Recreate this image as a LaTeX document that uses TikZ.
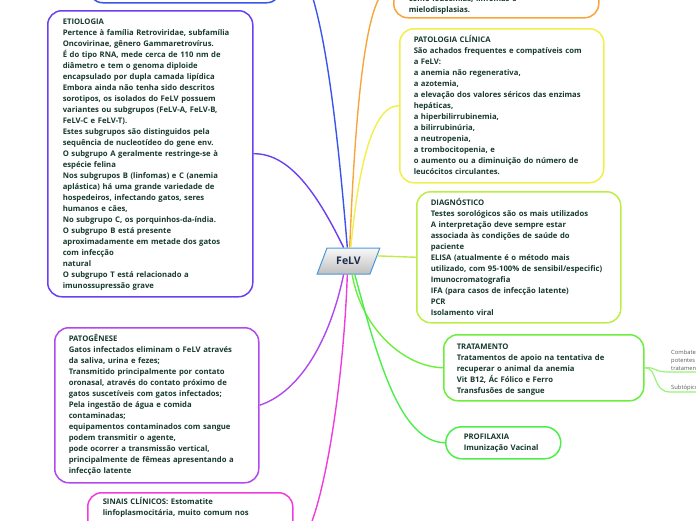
\documentclass[tikz,border=0pt]{standalone}
\usepackage{fontspec}
\setmainfont{Open Sans}
\usepackage{tikz}
\usetikzlibrary{calc, shapes.geometric}

\definecolor{txt}{HTML}{173A2F}
\definecolor{cblue}{HTML}{3A55EE}
\definecolor{cetio}{HTML}{6A40F0}
\definecolor{cpato}{HTML}{B048EE}
\definecolor{csin}{HTML}{F03CDC}
\definecolor{corange}{HTML}{F8A53C}
\definecolor{cyel}{HTML}{F2EE4A}
\definecolor{cdiag}{HTML}{BDEE48}
\definecolor{ctrat}{HTML}{6CEE3C}
\definecolor{cprof}{HTML}{4CEE4C}
\definecolor{cfelv}{HTML}{4A98D8}
\definecolor{cname}{HTML}{1F2D4D}

\begin{document}
\begin{tikzpicture}[x=1pt, y=-1pt,
      topic/.style={draw=#1, line width=1.5pt, rounded corners=14pt, fill=white, anchor=north west,
        align=left, inner ysep=0pt, text=txt, font=\fontsize{7.7}{11}\selectfont\bfseries},
      link/.style={draw=#1, line width=1.4pt},
      subtopic/.style={anchor=south west, inner sep=1pt, align=left, text=gray!70!black,
        font=\fontsize{5.8}{8}\selectfont}]
      \useasboundingbox (0,0) rectangle (696,520);
      \clip (0,0) rectangle (696,520);
      \node[topic=cblue, inner xsep=15pt, text width=162pt, text height=0pt, text depth=102pt] (tl) at (88,-100) {};
      \node[topic=cetio, inner xsep=15pt, text width=175pt, text height=13.4pt, text depth=272.6pt] (etio) at (47,10)
        {ETIOLOGIA\\
        Pertence à família Retroviridae, subfamília\\
        Oncovirinae, gênero Gammaretrovírus.\\
        É do tipo RNA, mede cerca de 110 nm de\\
        diâmetro e tem o genoma diploide\\
        encapsulado por dupla camada lipídica\\
        Embora ainda não tenha sido descritos\\
        sorotipos, os isolados do FeLV possuem\\
        variantes ou subgrupos (FeLV-A, FeLV-B,\\
        FeLV-C e FeLV-T).\\
        Estes subgrupos são distinguidos pela\\
        sequência de nucleotídeo do gene env.\\
        O subgrupo A geralmente restringe-se à\\
        espécie felina\\
        Nos subgrupos B (linfomas) e C (anemia\\
        aplástica) há uma grande variedade de\\
        hospedeiros, infectando gatos, seres\\
        humanos e cães,\\
        No subgrupo C, os porquinhos-da-índia.\\
        O subgrupo B está presente\\
        aproximadamente em metade dos gatos\\
        com infecção\\
        natural\\
        O subgrupo T está relacionado a\\
        imunossupressão grave};
      \node[topic=cpato, inner xsep=14pt, text width=176pt, text height=14pt, text depth=141pt] (pato) at (54,327)
        {PATOGÊNESE\\
        Gatos infectados eliminam o FeLV através\\
        da saliva, urina e fezes;\\
        Transmitido principalmente por contato\\
        oronasal, através do contato próximo de\\
        gatos suscetíveis com gatos infectados;\\
        Pela ingestão de água e comida\\
        contaminadas;\\
        equipamentos contaminados com sangue\\
        podem transmitir o agente,\\
        pode ocorrer a transmissão vertical,\\
        principalmente de fêmeas apresentando a\\
        infecção latente};
      \node[topic=csin, inner xsep=15pt, text width=175pt, text height=11.3pt, text depth=100pt] (sin) at (87,492)
        {SINAIS CLÍNICOS: Estomatite\\
        linfoplasmocitária, muito comum nos};
      \node[topic=corange, inner xsep=15pt, text width=175pt, text height=40.6pt, text depth=16.4pt] (tr) at (393,-40)
        {como leucemias, linfomas e\\
        mielodisplasias.};
      \node[topic=cyel, inner xsep=14pt, text width=176pt, text height=13.6pt, text depth=140.4pt] (patol) at (399,28)
        {PATOLOGIA CLÍNICA\\
        São achados frequentes e compatíveis com\\
        a FeLV:\\
        a anemia não regenerativa,\\
        a azotemia,\\
        a elevação dos valores séricos das enzimas\\
        hepáticas,\\
        a hiperbilirrubinemia,\\
        a bilirrubinúria,\\
        a neutropenia,\\
        a trombocitopenia, e\\
        o aumento ou a diminuição do número de\\
        leucócitos circulantes.};
      \node[topic=cdiag, inner xsep=14pt, text width=176pt, text height=13.6pt, text depth=117.4pt] (diag) at (416,191)
        {DIAGNÓSTICO\\
        Testes sorológicos são os mais utilizados\\
        A interpretação deve sempre estar\\
        associada às condições de saúde do\\
        paciente\\
        ELISA (atualmente é o método mais\\
        utilizado, com 95-100\% de sensibil/especific)\\
        Imunocromatografia\\
        IFA (para casos de infecção latente)\\
        PCR\\
        Isolamento viral};
      \node[topic=ctrat, inner xsep=13pt, text width=174pt, text height=14.6pt, text depth=51.4pt] (trat) at (443,334)
        {TRATAMENTO\\
        Tratamentos de apoio na tentativa de\\
        recuperar o animal da anemia\\
        Vit B12, Ác Fólico e Ferro\\
        Transfusões de sangue};
      \node[topic=cprof, rounded corners=16pt, inner xsep=18pt, text width=79pt, text height=12.6pt, text depth=19.4pt] (prof) at (445,426)
        {PROFILAXIA\\
        Imunização Vacinal};
      \node[subtopic] (sub1) at (670,372) {Combate a\\potentes\\tratamento};
      \node[subtopic] (sub2) at (670,392) {Subtópico};
      \node[trapezium, trapezium left angle=63.4, trapezium right angle=116.6, trapezium stretches=true,
        minimum width=63pt, minimum height=26pt, draw=cfelv, line width=1pt, top color=gray!5,
        bottom color=gray!50, text=cname, font=\fontsize{10.5}{11}\selectfont\bfseries] (felv) at (348.5,261) {FeLV};
      \draw[link=cblue] (felv.95) .. controls (335,100) and (318,-49) .. (tl.east);
      \draw[link=cetio] (felv.110) .. controls (318,195) and (290,153) .. (etio.east);
      \draw[link=corange] (felv.85) .. controls (355,120) and (365,-21.5) .. (tr.west);
      \draw[link=cyel] (felv.80) .. controls (357,180) and (370,105) .. (patol.west);
      \draw[link=cdiag] (felv.10) -- (diag.west);
      \draw[link=cpato] (felv.250) .. controls (330,340) and (300,392) .. (pato.east);
      \draw[link=csin] (felv.265) .. controls (343,400) and (318,546) .. (sin.east);
      \draw[link=ctrat] (felv.285) .. controls (362,330) and (405,367) .. (trat.west);
      \draw[link=cprof] (felv.295) .. controls (378,360) and (400,442) .. (prof.west);
      \draw[link=ctrat!70, line width=1.2pt] (trat.east) .. controls (658,367) and (652,372) .. (sub1.south west) -- (sub1.south east);
      \draw[link=ctrat!70, line width=1.2pt] (trat.east) .. controls (658,367) and (652,392) .. (sub2.south west) -- (sub2.south east);
    \end{tikzpicture}
\end{document}
